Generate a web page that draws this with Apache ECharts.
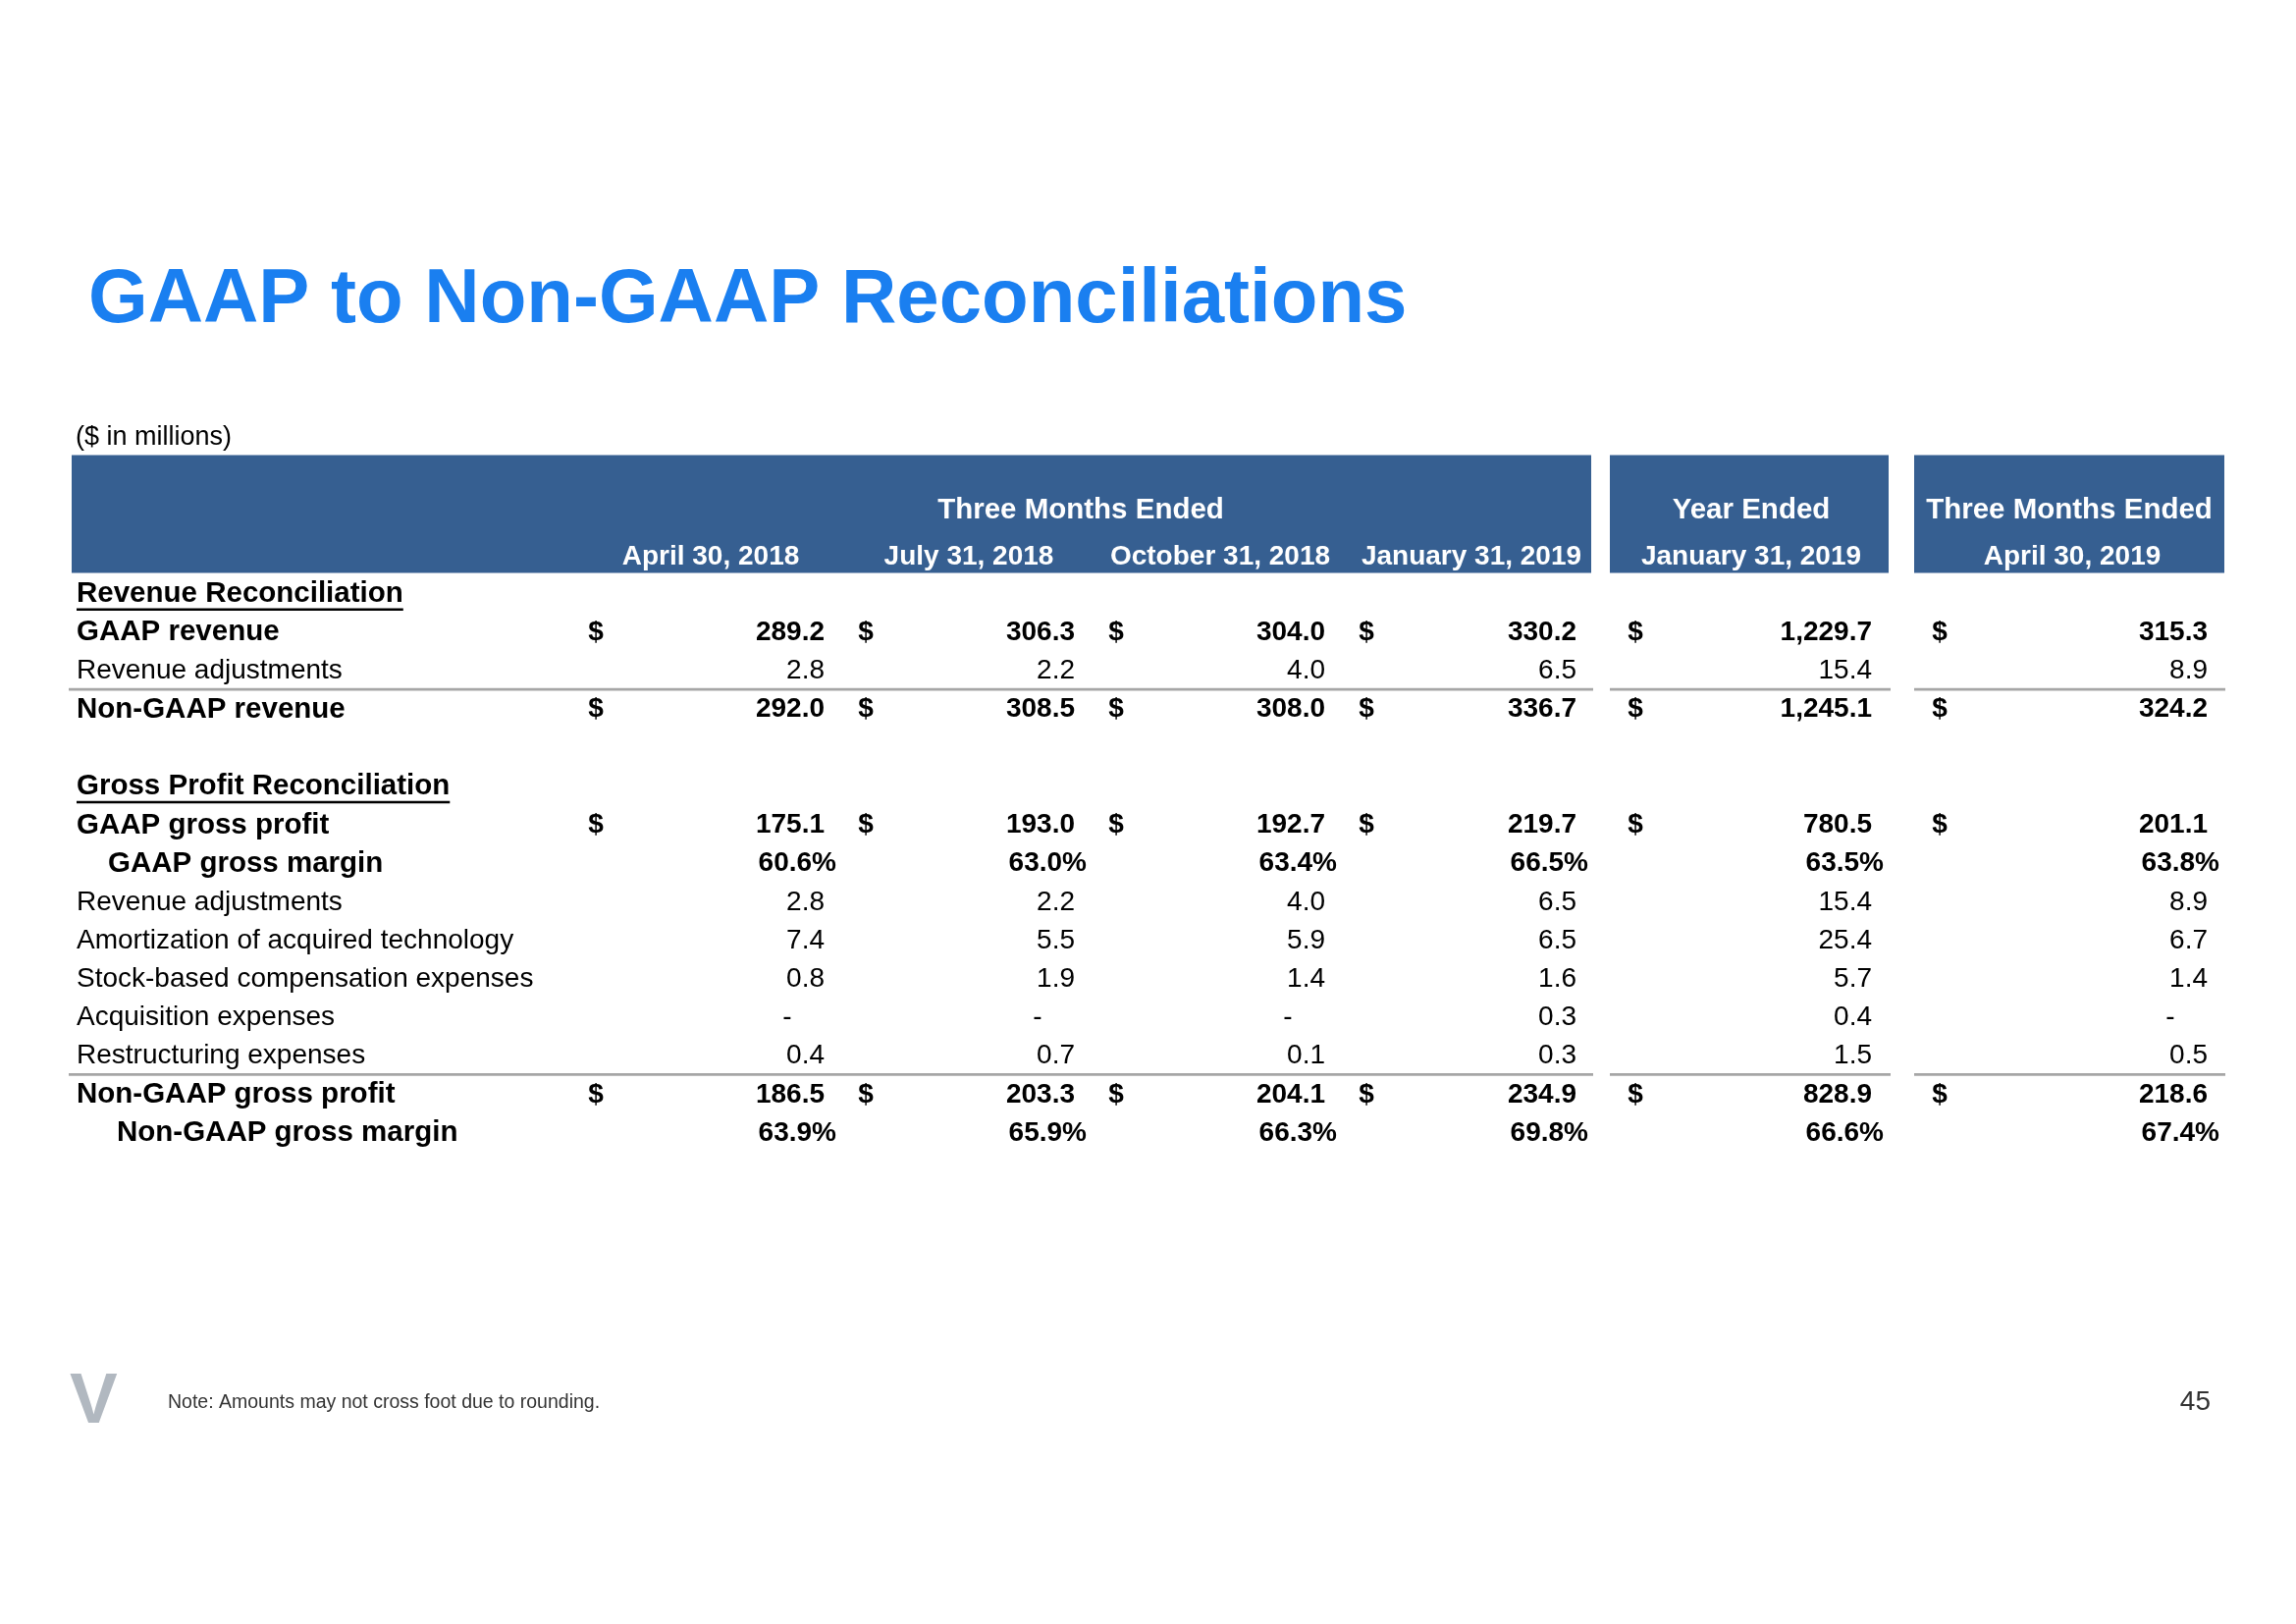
<!DOCTYPE html>
<html><head><meta charset="utf-8">
<script src="https://cdn.jsdelivr.net/npm/echarts@6/dist/echarts.min.js"></script>
<style>html,body{margin:0;padding:0;background:#fff}#chart{width:2339px;height:1654px}</style>
</head><body><div id="chart"></div>
<script>
// ---------------- data ----------------
const titleText = 'GAAP to Non-GAAP Reconciliations';
const unitNote = '($ in millions)';
const footNote = 'Note: Amounts may not cross foot due to rounding.';
const pageNumber = '45';
const logoText = 'V';

const periodGroups = ['Three Months Ended', 'Year Ended', 'Three Months Ended'];
const periods = ['April 30, 2018', 'July 31, 2018', 'October 31, 2018', 'January 31, 2019', 'January 31, 2019', 'April 30, 2019'];

const rowLabels = [
  'Revenue Reconciliation', 'GAAP revenue', 'Revenue adjustments', 'Non-GAAP revenue', '',
  'Gross Profit Reconciliation', 'GAAP gross profit', 'GAAP gross margin', 'Revenue adjustments',
  'Amortization of acquired technology', 'Stock-based compensation expenses', 'Acquisition expenses',
  'Restructuring expenses', 'Non-GAAP gross profit', 'Non-GAAP gross margin'
];

const gaapRevenue        = [289.2, 306.3, 304.0, 330.2, 1229.7, 315.3];
const revenueAdjustments = [2.8, 2.2, 4.0, 6.5, 15.4, 8.9];
const nonGaapRevenue     = [292.0, 308.5, 308.0, 336.7, 1245.1, 324.2];
const gaapGrossProfit    = [175.1, 193.0, 192.7, 219.7, 780.5, 201.1];
const gaapGrossMargin    = [60.6, 63.0, 63.4, 66.5, 63.5, 63.8];
const gpRevenueAdj       = [2.8, 2.2, 4.0, 6.5, 15.4, 8.9];
const amortization       = [7.4, 5.5, 5.9, 6.5, 25.4, 6.7];
const stockComp          = [0.8, 1.9, 1.4, 1.6, 5.7, 1.4];
const acquisition        = [null, null, null, 0.3, 0.4, null];
const restructuring      = [0.4, 0.7, 0.1, 0.3, 1.5, 0.5];
const nonGaapGrossProfit = [186.5, 203.3, 204.1, 234.9, 828.9, 218.6];
const nonGaapGrossMargin = [63.9, 65.9, 66.3, 69.8, 66.6, 67.4];

const rowValues = [null, gaapRevenue, revenueAdjustments, nonGaapRevenue, null,
  null, gaapGrossProfit, gaapGrossMargin, gpRevenueAdj, amortization, stockComp,
  acquisition, restructuring, nonGaapGrossProfit, nonGaapGrossMargin];

// ---------------- layout / style ----------------
const FF = '"Liberation Sans", Arial, Helvetica, sans-serif';
const rowKind = ['section','total','plain','total','blank','section','total','pct','plain','plain','plain','plain','plain','total','pct'];
const labelX = [78,78,78,78,78,78,78,110,78,78,78,78,78,78,119];
const separatorAfter = [2, 12];
const groupCols = [[0,1,2,3],[4],[5]];
const groupCenter = [1101, 1784, 2108];
const dateCenter = [724, 987, 1243, 1499, 1784, 2111];
const bands = [[73,1621],[1640,1924],[1950,2266]];
const sepSegs = [[70,1623],[1640,1926],[1950,2267]];
const valueRight = [840, 1095, 1350, 1606, 1907, 2249];
const pctOffset = 12;
const dashOffset = 38;
const dollarCenter = [607, 882, 1137, 1392, 1666, 1976];
const headerBlue = '#365F91';
const bodyShift = 2;

const measureCtx = document.createElement('canvas').getContext('2d');
function textWidth(t, font){ measureCtx.font = font; return measureCtx.measureText(t).width; }

function fmt(v){
  const s = v.toFixed(1).split('.');
  return s[0].replace(/\B(?=(\d{3})+(?!\d))/g, ',') + '.' + s[1];
}
function txt(text, x, y, font, fill, align){
  return {type:'text', style:{text:text, x:x, y:y, font:font, fill:fill,
    align:align, verticalAlign:'middle', textAlign:align, textVerticalAlign:'middle'}};
}

const bodyData = [];
rowLabels.forEach(function(l, r){ for (let c = -1; c < periods.length; c++) bodyData.push([c, r]); });

function renderBody(params, api){
  const c = api.value(0), r = api.value(1);
  const y = api.coord([0, r])[1];
  const bandH = api.size([0, 1])[1];
  const kind = rowKind[r];
  const boldF = 'bold 28px ' + FF, regF = '28px ' + FF, labelBoldF = 'bold 29.5px ' + FF;
  const ch = [];
  if (c < 0) {
    if (kind !== 'blank') {
      const f = kind === 'plain' ? regF : labelBoldF;
      ch.push(txt(rowLabels[r], labelX[r], y, f, '#000', 'left'));
      if (kind === 'section') {
        const w = textWidth(rowLabels[r], f);
        ch.push({type:'rect', shape:{x:labelX[r], y:y + 14.5, width:w, height:2.5}, style:{fill:'#000'}});
      }
    }
    if (separatorAfter.indexOf(r) >= 0) {
      const ly = y + bandH / 2 - 1;
      sepSegs.forEach(function(s){
        ch.push({type:'rect', shape:{x:s[0], y:ly - 1.3, width:s[1]-s[0], height:2.6}, style:{fill:'#A6A6A6'}});
      });
    }
  } else {
    const arr = rowValues[r];
    if (arr) {
      const v = arr[c];
      if (kind === 'pct') {
        ch.push(txt(v.toFixed(1) + '%', valueRight[c] + pctOffset, y, boldF, '#000', 'right'));
      } else if (v === null) {
        ch.push(txt('-', valueRight[c] - dashOffset, y, regF, '#000', 'center'));
      } else {
        ch.push(txt(fmt(v), valueRight[c], y, kind === 'total' ? boldF : regF, '#000', 'right'));
      }
      if (kind === 'total') ch.push(txt('$', dollarCenter[c], y, boldF, '#000', 'center'));
    }
  }
  return {type:'group', children:ch};
}

function renderHeader(params, api){
  const g = api.value(0);
  const y0 = api.coord([0, 0])[1];
  const bandH = api.size([0, 1])[1];
  const bottom = y0 - bandH / 2 - bodyShift;
  const top = bottom - 120;
  const ch = [{type:'rect', shape:{x:bands[g][0], y:top, width:bands[g][1]-bands[g][0], height:bottom-top}, style:{fill:headerBlue}}];
  ch.push(txt(periodGroups[g], groupCenter[g], bottom - 64, 'bold 29.5px ' + FF, '#fff', 'center'));
  groupCols[g].forEach(function(c){
    ch.push(txt(periods[c], dateCenter[c], bottom - 16, 'bold 28px ' + FF, '#fff', 'center'));
  });
  return {type:'group', children:ch};
}

const chart = echarts.init(document.getElementById('chart'), null, {renderer:'canvas'});
chart.setOption({
  backgroundColor:'#ffffff',
  animation:false,
  grid:{left:0, right:0, top:583.4 + bodyShift, height:588.4},
  xAxis:{type:'value', min:0, max:2339, show:false},
  yAxis:{type:'category', data:rowLabels, inverse:true, show:false},
  graphic:[
    {type:'text', x:90, y:306, style:{text:titleText, font:'bold 78px ' + FF, fill:'#1A7FF0', textVerticalAlign:'middle', verticalAlign:'middle'}},
    {type:'text', x:77, y:446, style:{text:unitNote, font:'27px ' + FF, fill:'#000', textVerticalAlign:'middle', verticalAlign:'middle'}},
    {type:'text', x:71, y:1429, style:{text:logoText, font:'bold 73px ' + FF, fill:'#B1B8C0', textVerticalAlign:'middle', verticalAlign:'middle'}},
    {type:'text', x:171, y:1429, style:{text:footNote, font:'19.5px ' + FF, fill:'#333', textVerticalAlign:'middle', verticalAlign:'middle'}},
    {type:'text', x:2252, y:1428, style:{text:pageNumber, font:'28px ' + FF, fill:'#333', textAlign:'right', align:'right', textVerticalAlign:'middle', verticalAlign:'middle'}}
  ],
  series:[
    {type:'custom', name:'header', data:[[0],[1],[2]], renderItem:renderHeader, silent:true, encode:{x:-1, y:-1}},
    {type:'custom', name:'body', data:bodyData, renderItem:renderBody, silent:true, encode:{x:0, y:1}}
  ]
});
</script></body></html>
